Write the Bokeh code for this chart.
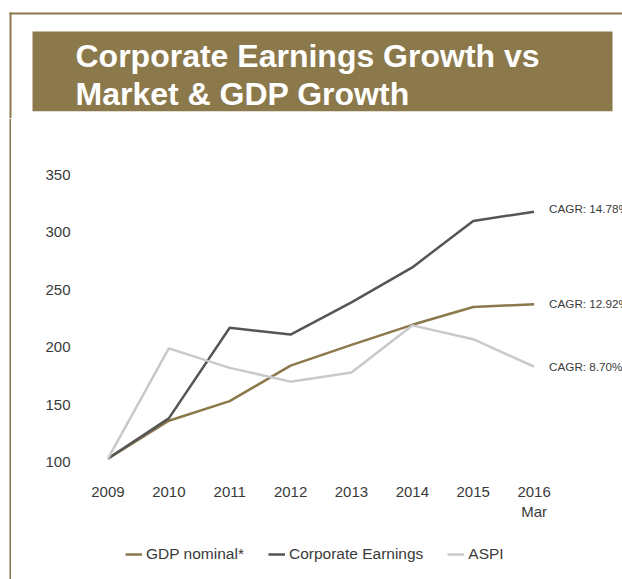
from bokeh.plotting import figure
from bokeh.models import Range1d, FixedTicker, Legend, LegendItem, Label
from bokeh.layouts import column, row
from bokeh.core.properties import value
from bokeh.embed import file_html
from bokeh.resources import INLINE

# ---- data ----
years = ["2009", "2010", "2011", "2012", "2013", "2014", "2015", "2016\nMar"]
gdp_nominal = [103, 136, 153, 184, 202, 219.5, 235, 237.5]
corporate_earnings = [103, 138, 217, 211, 239, 269.5, 310, 318]
aspi = [103, 199, 182, 170, 178, 219, 207, 183]
series_names = ["GDP nominal*", "Corporate Earnings", "ASPI"]
cagr_labels = ["CAGR: 12.92%", "CAGR: 14.78%", "CAGR: 8.70%"]
y_ticks = [100, 150, 200, 250, 300, 350]
title_lines = ["Corporate Earnings Growth vs", "Market & GDP Growth"]

GOLD = "#8B784B"
DARK = "#555555"
LIGHT = "#C9C9C9"
TXT = "#3a3a3a"
FONT = "Liberation Sans"

PAGE_W, PAGE_H = 622, 579
TOP_H = 118
STRIP_W = 11
CHART_W = PAGE_W - STRIP_W
CHART_H = 407
LEG_H = PAGE_H - TOP_H - CHART_H


def deco_fig(w, h):
    f = figure(width=w, height=h, x_range=Range1d(0, w), y_range=Range1d(h, 0),
               min_border=0, x_axis_location=None, y_axis_location=None,
               output_backend="svg", toolbar_location=None)
    f.outline_line_color = None
    f.grid.visible = False
    f.background_fill_color = "white"
    f.border_fill_color = "white"
    return f


# ---- top: border line + title box ----
top = deco_fig(PAGE_W, TOP_H)
top.quad(left=9, right=PAGE_W, top=12, bottom=14, color=GOLD, line_color=None)
top.quad(left=9, right=11, top=12, bottom=TOP_H, color=GOLD, line_color=None)
top.quad(left=32, right=612, top=31, bottom=110.7, color=GOLD, line_color=None)
top.text(x=[75, 75], y=[55, 93.7], text=title_lines, text_font=value(FONT),
         text_font_size="32px", text_font_style="bold", text_color="white",
         text_baseline="alphabetic", text_align="left")

# ---- left border strip ----
strip = deco_fig(STRIP_W, PAGE_H - TOP_H)
strip.quad(left=9, right=11, top=0, bottom=PAGE_H - TOP_H, color=GOLD, line_color=None)

# ---- chart ----
L, T, B = 66, 45, 355
x_step = 60.875
x = list(range(len(years)))
x_end = -0.5 + (CHART_W - L) / x_step

p = figure(width=CHART_W, height=CHART_H, x_range=Range1d(-0.5, x_end),
           y_range=Range1d(90, 360), min_border_left=L, min_border_right=0,
           min_border_top=T, min_border_bottom=CHART_H - B,
           output_backend="svg", toolbar_location=None)
p.outline_line_color = None
p.grid.visible = False
p.background_fill_color = "white"
p.border_fill_color = "white"

for ax in (p.xaxis[0], p.yaxis[0]):
    ax.axis_line_color = None
    ax.major_tick_line_color = None
    ax.minor_tick_line_color = None
    ax.major_tick_out = 0
    ax.major_tick_in = 0
    ax.major_label_text_font = FONT
    ax.major_label_text_font_size = "15px"
    ax.major_label_text_color = TXT

p.xaxis.ticker = FixedTicker(ticks=x)
p.xaxis.major_label_overrides = {i: s for i, s in enumerate(years)}
p.xaxis.major_label_standoff = 9
p.yaxis.ticker = FixedTicker(ticks=y_ticks)
p.yaxis.major_label_standoff = 7

colors = [GOLD, DARK, LIGHT]
p.line(x, gdp_nominal, line_color=GOLD, line_width=2.5)
p.line(x, corporate_earnings, line_color=DARK, line_width=2.5)
p.line(x, aspi, line_color=LIGHT, line_width=2.5)

for series, lab, dy in ((corporate_earnings, cagr_labels[1], 3),
                        (gdp_nominal, cagr_labels[0], 1),
                        (aspi, cagr_labels[2], 0)):
    p.add_layout(Label(x=x[-1], y=series[-1], text=lab, x_offset=15, y_offset=dy,
                       text_baseline="middle", text_align="left",
                       text_font=FONT, text_font_size="11.7px", text_color=TXT))

# ---- legend (own strip below the chart; samples only, nothing plotted) ----
nan = float("nan")
lf = deco_fig(CHART_W, LEG_H)
items = []
for name, c in zip(series_names, colors):
    r = lf.line(x=[nan], y=[nan], line_color=c, line_width=2.5)
    items.append(LegendItem(label=name, renderers=[r]))
legend = Legend(items=items, orientation="horizontal", location=(48, 16),
                padding=0, margin=0, spacing=24, label_standoff=4,
                glyph_width=17, glyph_height=16, label_height=16,
                border_line_color=None, background_fill_alpha=0,
                label_text_font=FONT, label_text_font_size="15.5px",
                label_text_color=TXT)
lf.add_layout(legend)

layout = column(top, row(strip, column(p, lf)))
open("out.html", "w").write(file_html(layout, INLINE))
